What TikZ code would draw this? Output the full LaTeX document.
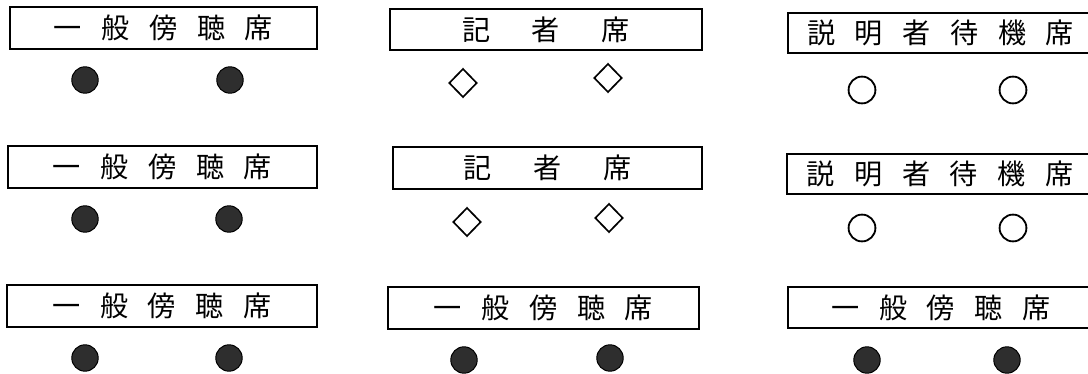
\documentclass[tikz,border=0pt]{standalone}
\usepackage{fontspec}
\newfontfamily\jpfont{Noto Sans CJK JP}
\usetikzlibrary{shapes.geometric}
\newcommand{\gapS}{\hspace{0.49cm}}
\newcommand{\gapW}{\hspace{1.04cm}}
\tikzset{
  px/.style={x=0.025cm,y=-0.025cm},
  labelbox/.style={draw,line width=1.1pt,rectangle,inner sep=0pt,
    font=\jpfont\fontsize{20pt}{20pt}\selectfont,text=black},
  dot/.style={circle,fill=black!82,draw=black,line width=0.7pt,inner sep=0pt,minimum size=0.66cm},
  ring/.style={circle,draw=black,line width=1.3pt,inner sep=0pt,minimum size=0.67cm},
  rhomb/.style={diamond,draw=black,line width=1.2pt,inner sep=0pt,minimum width=0.7cm,minimum height=0.72cm}
}
\begin{document}
\begin{tikzpicture}[px]
\useasboundingbox (0,0) rectangle (1088,374);
\clip (0,0) rectangle (1088,374);
% row 1
\node[labelbox,minimum width=7.675cm,minimum height=1.05cm] (b11) at (163.5,28) {一\gapS 般\gapS 傍\gapS 聴\gapS 席};
\node[labelbox,minimum width=7.8cm,minimum height=1.025cm] (b12) at (546,29.5) {記\gapW 者\gapW 席};
\node[labelbox,minimum width=7.625cm,minimum height=1.0cm] (b13) at (940.5,33) {説\gapS 明\gapS 者\gapS 待\gapS 機\gapS 席};
\node[dot] (d11a) at (85,80) {};
\node[dot] (d11b) at (230,80) {};
\node[rhomb] (d12a) at (463,83) {};
\node[rhomb] (d12b) at (608,78) {};
\node[ring] (d13a) at (862,90) {};
\node[ring] (d13b) at (1013,90) {};
% row 2
\node[labelbox,minimum width=7.725cm,minimum height=1.05cm] (b21) at (162.5,167) {一\gapS 般\gapS 傍\gapS 聴\gapS 席};
\node[labelbox,minimum width=7.725cm,minimum height=1.05cm] (b22) at (547.5,168) {記\gapW 者\gapW 席};
\node[labelbox,minimum width=7.65cm,minimum height=1.0cm] (b23) at (940,174) {説\gapS 明\gapS 者\gapS 待\gapS 機\gapS 席};
\node[dot] (d21a) at (85,219) {};
\node[dot] (d21b) at (229,219) {};
\node[rhomb] (d22a) at (467,222) {};
\node[rhomb] (d22b) at (609,218) {};
\node[ring] (d23a) at (862,228) {};
\node[ring] (d23b) at (1013,228) {};
% row 3
\node[labelbox,minimum width=7.75cm,minimum height=1.05cm] (b31) at (162,306) {一\gapS 般\gapS 傍\gapS 聴\gapS 席};
\node[labelbox,minimum width=7.775cm,minimum height=1.05cm] (b32) at (543.5,308) {一\gapS 般\gapS 傍\gapS 聴\gapS 席};
\node[labelbox,minimum width=7.65cm,minimum height=1.025cm] (b33) at (941,307.5) {一\gapS 般\gapS 傍\gapS 聴\gapS 席};
\node[dot] (d31a) at (85,358) {};
\node[dot] (d31b) at (229,358) {};
\node[dot] (d32a) at (464,360) {};
\node[dot] (d32b) at (610,358) {};
\node[dot] (d33a) at (867,360) {};
\node[dot] (d33b) at (1007,360) {};
\end{tikzpicture}
\end{document}
